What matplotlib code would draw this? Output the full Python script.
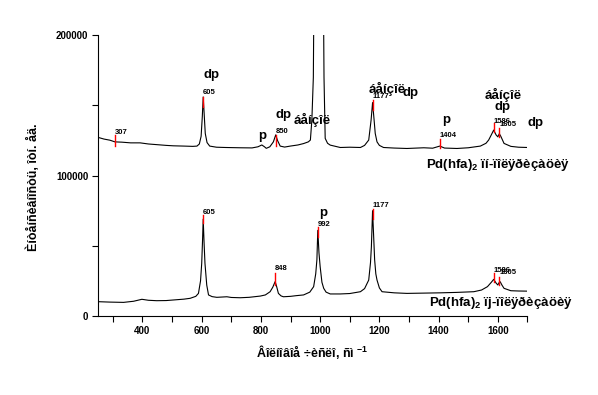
import matplotlib
matplotlib.use("Agg")
import matplotlib.pyplot as plt
from matplotlib.ticker import MultipleLocator

plt.rcParams['font.family'] = ['Liberation Sans', 'DejaVu Sans']
plt.rcParams['font.weight'] = 'bold'
plt.rcParams['mathtext.fontset'] = 'custom'
plt.rcParams['mathtext.rm'] = 'Liberation Sans:bold'
plt.rcParams['mathtext.it'] = 'Liberation Sans:bold'
plt.rcParams['mathtext.bf'] = 'Liberation Sans:bold'

# ---- data ----
top_x = [250, 270, 290, 307, 330, 360, 392, 420, 450, 480, 504, 540, 570, 584, 592, 598,
         602, 605, 608, 612, 618, 627, 650, 680, 730, 770, 790, 803, 812, 818, 830, 842,
         850, 856, 865, 880, 899, 925, 944, 960, 967, 972, 977, 980, 995, 1010, 1013, 1017,
         1025, 1034, 1068, 1100, 1136, 1150, 1164, 1172, 1177, 1182, 1186, 1192, 1200, 1214,
         1250, 1293, 1350, 1380, 1404, 1420, 1462, 1500, 1541, 1560, 1569, 1578, 1586, 1594,
         1600, 1605, 1610, 1621, 1644, 1670, 1700]
top_y = [127200, 126000, 125200, 124000, 123800, 123300, 123300, 122500, 122000, 121500,
         121200, 121000, 120800, 121000, 122500, 128000, 142000, 156000, 145000, 130000,
         123500, 121000, 120200, 120000, 119800, 119700, 120500, 121800, 120500, 119400,
         120500, 124000, 129000, 125000, 121000, 120300, 121000, 121800, 122800, 124000,
         125300, 139500, 170000, 260000, 900000, 260000, 170000, 126500, 123000, 121700,
         120000, 120200, 120000, 121500, 125300, 139500, 152000, 140000, 130000, 124000,
         121500, 120000, 119600, 119300, 119800, 119500, 121000, 119600, 119300, 119800,
         121000, 123000, 125300, 129000, 132400, 129000, 127600, 129800, 128000, 122900,
         120800, 120200, 120000]

bot_x = [250, 290, 336, 370, 398, 420, 448, 480, 504, 540, 561, 580, 589, 596, 600, 603,
         605, 608, 611, 617, 623, 635, 651, 685, 700, 730, 760, 798, 815, 831, 840, 848,
         853, 859, 868, 876, 900, 920, 944, 965, 978, 985, 989, 992, 996, 1000, 1006, 1012,
         1020, 1034, 1068, 1100, 1136, 1150, 1164, 1170, 1173, 1177, 1180, 1184, 1188, 1192,
         1200, 1209, 1250, 1293, 1350, 1406, 1460, 1519, 1545, 1565, 1578, 1586, 1594, 1600,
         1605, 1608, 1614, 1621, 1644, 1670, 1700]
bot_y = [10200, 9900, 9700, 10500, 11900, 11200, 10900, 11000, 11400, 12000, 12600, 14000,
         16100, 25000, 37500, 55000, 69000, 52000, 37500, 22000, 15000, 13800, 13300, 13700,
         13200, 13000, 13300, 14200, 15000, 17300, 20500, 24500, 21000, 16100, 14300, 13700,
         14000, 14500, 15000, 17000, 20900, 30000, 40000, 61000, 45000, 35100, 24000, 19700,
         17000, 15700, 15700, 16000, 17300, 19500, 25600, 38000, 49300, 75000, 60000, 40000,
         30000, 25600, 20000, 17300, 16500, 16100, 16300, 16500, 16800, 17300, 18500, 20900,
         24000, 26100, 23500, 22100, 24000, 24400, 22000, 19700, 18000, 17800, 17700]

# peak markers: (position, red line bottom, red line top, label, label y)
top_peaks = [307, 605, 850, 1177, 1404, 1586, 1605]
top_peak_lo = [121000, 148700, 121000, 146600, 119600, 131000, 127400]
top_peak_hi = [128800, 155900, 128800, 153700, 126000, 137400, 133800]
top_peak_labels = ['307', '605', '850', '1177', '1404', '1586', '1605']
top_peak_ly = [131000, 158900, 131200, 156600, 128800, 138800, 136400]

bot_peaks = [605, 848, 992, 1177, 1586, 1605]
bot_peak_lo = [66000, 22100, 56400, 68800, 24400, 22100]
bot_peak_hi = [71900, 30800, 63100, 75900, 30600, 28000]
bot_peak_labels = ['605', '848', '992', '1177', '1586', '1605']
bot_peak_ly = [73800, 33500, 65500, 79000, 32700, 31300]

# band assignment texts: (text, x, y)
band_texts = ['dp', 'p', 'dp', 'áåíçîë', 'áåíçîë', 'dp', 'p', 'áåíçîë', 'dp', 'dp', 'p']
band_x = [605, 792, 849, 910, 1163, 1277, 1412, 1555, 1588, 1700, 996]
band_y = [171500, 128100, 143000, 139500, 162000, 158500, 139500, 157300, 149000, 137100, 73500]

top_name = 'Pd(hfa)$_{2}$ ïí-ïîëÿðèçàöèÿ'
bot_name = 'Pd(hfa)$_{2}$ ïj-ïîëÿðèçàöèÿ'
xlabel = 'Âîëíîâîå ÷èñëî, ñì $^{-1}$'
ylabel = 'Èíòåíñèâíîñòü, îòí. åä.'

# ---- figure ----
fig = plt.figure(figsize=(5.98, 3.95), dpi=100)
ax = fig.add_axes([0.164, 0.200, 0.718, 0.711])

ax.plot(top_x, top_y, color='black', lw=0.8)
ax.plot(bot_x, bot_y, color='black', lw=0.8)

for p, lo, hi, lab, ly in zip(top_peaks, top_peak_lo, top_peak_hi, top_peak_labels, top_peak_ly):
    ax.plot([p, p], [lo, hi], color='red', lw=1.0)
    ax.text(p, ly, lab, fontsize=5.5, fontweight='bold', ha='left', va='center')
for p, lo, hi, lab, ly in zip(bot_peaks, bot_peak_lo, bot_peak_hi, bot_peak_labels, bot_peak_ly):
    ax.plot([p, p], [lo, hi], color='red', lw=1.0)
    ax.text(p, ly, lab, fontsize=5.5, fontweight='bold', ha='left', va='center')

for t, x, y in zip(band_texts, band_x, band_y):
    ax.text(x, y, t, fontsize=9.5, fontweight='bold', ha='left', va='center', clip_on=False)

ax.text(1359, 108200, top_name, fontsize=9.5, fontweight='bold', ha='left', va='center')
ax.text(1369, 9500, bot_name, fontsize=9.5, fontweight='bold', ha='left', va='center')

ax.set_xlim(250, 1700)
ax.set_ylim(0, 200000)
ax.xaxis.set_major_locator(MultipleLocator(200))
ax.xaxis.set_minor_locator(MultipleLocator(100))
ax.yaxis.set_major_locator(MultipleLocator(100000))
ax.yaxis.set_minor_locator(MultipleLocator(50000))
ax.tick_params(which='both', direction='out', length=4, width=0.8, labelsize=7, pad=3)
for lab in ax.get_xticklabels() + ax.get_yticklabels():
    lab.set_fontweight('bold')

for s in ['top', 'right']:
    ax.spines[s].set_visible(False)
for s in ['left', 'bottom']:
    ax.spines[s].set_linewidth(0.8)

ax.set_xlabel(xlabel, fontsize=9, fontweight='bold', labelpad=5)
ax.set_ylabel(ylabel, fontsize=9, fontweight='bold')
ax.yaxis.set_label_coords(-0.135, 0.46)

fig.savefig('out.png', dpi=100)
